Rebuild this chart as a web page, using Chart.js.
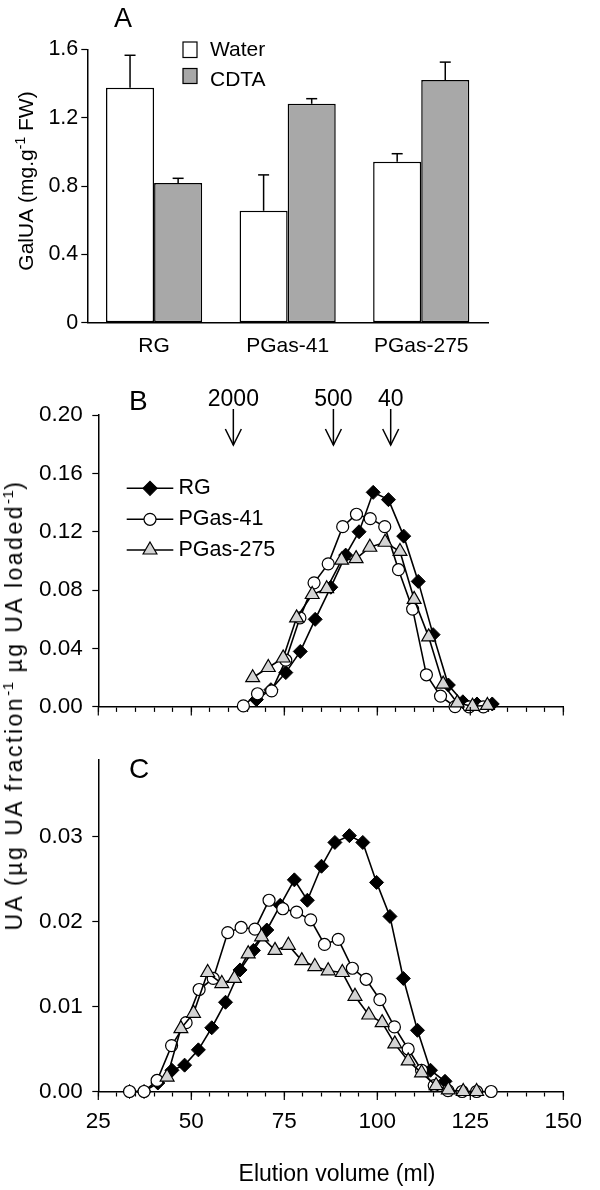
<!DOCTYPE html>
<html><head><meta charset="utf-8">
<script src="https://cdn.jsdelivr.net/npm/chart.js@4.4.1/dist/chart.umd.min.js"></script>
<style>
body{margin:0;background:#fff;}
#wrap{position:relative;width:600px;height:1190px;overflow:hidden;background:#fff;}
canvas{position:absolute;left:0;}
#ytBC{position:absolute;left:3px;top:705px;font:23px "Liberation Sans",Arial,sans-serif;letter-spacing:2.5px;line-height:23px;white-space:nowrap;transform-origin:0 0;transform:rotate(-90deg) translateX(-50%);color:#000;}
#ytBC sup{font-size:15px;letter-spacing:0.5px;line-height:0;vertical-align:baseline;position:relative;top:-9px;}
</style></head><body>
<div id="wrap">
<canvas id="cA" width="600" height="370" style="top:0"></canvas>
<canvas id="cB" width="600" height="370" style="top:360px"></canvas>
<canvas id="cC" width="600" height="460" style="top:730px"></canvas>
<div id="ytBC">UA (µg UA fraction<sup>-1</sup> µg UA loaded<sup>-1</sup>)</div>
</div>
<script>
// ---------- Panel A data ----------
const categories = ['RG', 'PGas-41', 'PGas-275'];
const waterVals = [1.375, 0.655, 0.942];
const cdtaVals  = [0.817, 1.281, 1.420];
const waterErr  = [0.19, 0.21, 0.047];
const cdtaErr   = [0.028, 0.03, 0.105];
const yTicksA   = [0, 0.4, 0.8, 1.2, 1.6];

// ---------- Shared x axis (B, C) ----------
const xTicks = [25,30,35,40,45,50,55,60,65,70,75,80,85,90,95,100,105,110,115,120,125,130,135,140,145,150];
const xMajor = [25,50,75,100,125,150];
const yTicksB = [0, 0.04, 0.08, 0.12, 0.16, 0.20];
const yTicksC = [0, 0.01, 0.02, 0.03];
const markerAt = [61.3, 88.2, 103.6];
const markerLabels = ['2000', '500', '40'];

// ---------- Panel B data ----------
const rgBx   = [67.5, 71.4, 75.4, 79.3, 83.3, 87.5, 91.5, 95.1, 98.9, 103.0, 107.1, 111.0, 115.0, 119.1, 123.0, 126.8, 130.9];
const rgBy   = [0.005, 0.0118, 0.0235, 0.038, 0.060, 0.082, 0.104, 0.120, 0.147, 0.142, 0.117, 0.086, 0.0495, 0.015, 0.0035, 0.002, 0.002];
const p41Bx  = [64.0, 67.8, 71.6, 75.4, 79.2, 83.0, 86.8, 90.7, 94.4, 98.1, 102.0, 105.7, 109.5, 113.2, 117.0, 120.9, 124.7, 128.5];
const p41By  = [0.0007, 0.009, 0.011, 0.032, 0.061, 0.085, 0.098, 0.1235, 0.132, 0.129, 0.1235, 0.094, 0.067, 0.022, 0.0074, 0.0002, 0, 0];
const p275Bx = [66.5, 70.7, 74.7, 78.3, 82.5, 86.4, 90.4, 94.3, 98.0, 102.1, 106.1, 109.9, 113.8, 117.7, 121.5, 125.6, 129.6];
const p275By = [0.020, 0.027, 0.0335, 0.061, 0.077, 0.081, 0.1005, 0.1016, 0.1094, 0.1128, 0.1065, 0.0737, 0.048, 0.0156, 0.0027, 0.0004, 0.001];

// ---------- Panel C data ----------
const rgCx   = [33.4, 37.3, 41.0, 44.8, 48.2, 51.9, 55.5, 59.2, 63.1, 66.7, 70.3, 73.9, 77.7, 81.2, 85.0, 88.6, 92.5, 96.1, 99.8, 103.4, 107.0, 110.8, 114.3, 118.2];
const rgCy   = [0, 0, 0.001, 0.0025, 0.0031, 0.0049, 0.0075, 0.0105, 0.0143, 0.0166, 0.019, 0.0219, 0.0249, 0.0225, 0.0265, 0.0293, 0.0301, 0.0293, 0.0246, 0.0206, 0.0133, 0.0072, 0.0025, 0.0012];
const p41Cx  = [33.4, 37.3, 40.8, 44.7, 48.6, 52.1, 55.9, 59.8, 63.4, 67.1, 70.9, 74.6, 78.3, 82.1, 85.8, 89.5, 93.3, 97.0, 100.7, 104.6, 108.3, 111.9, 115.3, 119.0, 122.8, 126.7, 130.6];
const p41Cy  = [0, 0, 0.0013, 0.0054, 0.0081, 0.012, 0.0133, 0.0187, 0.0193, 0.0191, 0.0225, 0.0215, 0.0211, 0.0202, 0.0173, 0.0179, 0.0145, 0.0132, 0.0108, 0.0076, 0.0050, 0.0025, 0.0007, 0.0001, 0, 0, 0];
const p275Cx = [43.5, 47.2, 50.6, 54.4, 58.2, 61.6, 65.3, 68.9, 72.5, 76.1, 79.7, 83.2, 86.8, 90.6, 94.0, 97.7, 101.3, 104.7, 108.3, 111.9, 115.8, 119.1, 123.1, 126.7];
const p275Cy = [0.0017, 0.0074, 0.0092, 0.014, 0.0127, 0.0133, 0.0162, 0.0182, 0.0166, 0.0172, 0.0154, 0.0147, 0.0142, 0.014, 0.0112, 0.009, 0.0081, 0.0056, 0.0036, 0.0022, 0.0007, 0.0002, 0, 0];

const seriesNames = ['RG', 'PGas-41', 'PGas-275'];

// ---------- helpers ----------
const FONT = '"Liberation Sans", Arial, Helvetica, sans-serif';
Chart.defaults.font.family = FONT;
Chart.defaults.font.size = 21;
Chart.defaults.color = '#000';

function txt(ctx, s, x, y, size, align) {
  ctx.save();
  ctx.font = size + 'px ' + FONT;
  ctx.fillStyle = '#000';
  ctx.textAlign = align || 'left';
  ctx.textBaseline = 'middle';
  ctx.fillText(s, x, y);
  ctx.restore();
}
function line(ctx, x1, y1, x2, y2, w) {
  ctx.save(); ctx.strokeStyle = '#000'; ctx.lineWidth = w || 1.5;
  ctx.beginPath(); ctx.moveTo(x1, y1); ctx.lineTo(x2, y2); ctx.stroke(); ctx.restore();
}
function rotatedTitle(ctx, parts, cy, baseX, size, supSize, supRise) {
  ctx.save();
  ctx.fillStyle = '#000';
  let W = 0;
  parts.forEach(p => { ctx.font = (p.sup ? supSize : size) + 'px ' + FONT; p.w = ctx.measureText(p.t).width; W += p.w; });
  ctx.translate(baseX, cy);
  ctx.rotate(-Math.PI / 2);
  ctx.textBaseline = 'alphabetic'; ctx.textAlign = 'left';
  let x = -W / 2;
  parts.forEach(p => { ctx.font = (p.sup ? supSize : size) + 'px ' + FONT; ctx.fillText(p.t, x, p.sup ? -supRise : 0); x += p.w; });
  ctx.restore();
}
const R_DIA = 7, R_CIR = 6, R_TRI = 8;
function marker(ctx, style, x, y) {
  ctx.save(); ctx.strokeStyle = '#000'; ctx.lineWidth = 1.2;
  ctx.beginPath();
  if (style === 'rectRot') { const r = R_DIA; ctx.moveTo(x - r, y); ctx.lineTo(x, y - r); ctx.lineTo(x + r, y); ctx.lineTo(x, y + r); ctx.closePath(); ctx.fillStyle = '#000'; }
  else if (style === 'circle') { ctx.arc(x, y, R_CIR, 0, Math.PI * 2); ctx.fillStyle = '#fff'; }
  else { const r = R_TRI; ctx.moveTo(x, y - r); ctx.lineTo(x + r * 0.866, y + r / 2); ctx.lineTo(x - r * 0.866, y + r / 2); ctx.closePath(); ctx.fillStyle = '#d4d4d4'; }
  ctx.fill(); ctx.stroke(); ctx.restore();
}
function majorTicks(chart) {
  const ctx = chart.ctx, xs = chart.scales.x, b = chart.chartArea.bottom;
  xMajor.forEach(v => { const px = xs.getPixelForValue(v); line(ctx, px, b, px, b + 8.5, 1.2); });
}

// ---------- Panel A ----------
const plugA = {
  id: 'plugA',
  afterDatasetsDraw(chart) {
    const ctx = chart.ctx, ys = chart.scales.y;
    [[waterVals, waterErr], [cdtaVals, cdtaErr]].forEach((pair, d) => {
      chart.getDatasetMeta(d).data.forEach((bar, i) => {
        const top = ys.getPixelForValue(pair[0][i] + pair[1][i]);
        line(ctx, bar.x, bar.y, bar.x, top, 1.5);
        line(ctx, bar.x - 5.5, top, bar.x + 5.5, top, 1.5);
      });
    });
  },
  afterDraw(chart) {
    const ctx = chart.ctx;
    txt(ctx, 'A', 114, 20, 27, 'left');
    ctx.save(); ctx.lineWidth = 1.2; ctx.strokeStyle = '#000';
    ctx.fillStyle = '#fff'; ctx.fillRect(183, 42, 14, 15.5); ctx.strokeRect(183, 42, 14, 15.5);
    ctx.fillStyle = '#a8a8a8'; ctx.fillRect(183, 68.5, 14, 15); ctx.strokeRect(183, 68.5, 14, 15);
    ctx.restore();
    txt(ctx, 'Water', 210, 50, 21);
    txt(ctx, 'CDTA', 210, 80, 21);
    rotatedTitle(ctx, [{t: 'GalUA (mg.g'}, {t: '-1', sup: true}, {t: ' FW)'}], 181, 33, 21, 14, 8);
  }
};
new Chart(document.getElementById('cA'), {
  type: 'bar',
  data: { labels: categories, datasets: [
    { label: 'Water', data: waterVals, backgroundColor: '#ffffff', borderColor: '#000', borderWidth: 1.5, borderSkipped: false, categoryPercentage: 0.72, barPercentage: 1 },
    { label: 'CDTA', data: cdtaVals, backgroundColor: '#a8a8a8', borderColor: '#000', borderWidth: 1.5, borderSkipped: false, categoryPercentage: 0.72, barPercentage: 1 }
  ]},
  options: {
    responsive: false, animation: false, devicePixelRatio: 1, events: [],
    layout: { padding: { top: 49.3, right: 112, left: 0, bottom: 0 } },
    plugins: { legend: { display: false }, tooltip: { enabled: false } },
    scales: {
      x: { grid: { drawOnChartArea: false, drawTicks: false }, border: { color: '#000', width: 1.5 },
           ticks: { padding: 10.5, color: '#000', font: { size: 21 } },
           afterFit: s => { s.height = 370 - 322.7; } },
      y: { min: 0, max: 1.6,
           afterBuildTicks: s => { s.ticks = yTicksA.map(v => ({ value: v })); },
           ticks: { callback: v => v === 0 ? '0' : v.toFixed(1), padding: 3, color: '#000', font: { size: 21.5 } },
           grid: { drawOnChartArea: false, tickLength: 6, color: '#000', tickWidth: 1.2 },
           border: { color: '#000', width: 1.5 },
           afterFit: s => { s.width = 87.3; } }
    }
  },
  plugins: [plugA]
});

// ---------- Panels B & C ----------
function pts(xs, ys) { return xs.map((x, i) => ({ x: x, y: ys[i] })); }
function lineSets(rx, ry, ax, ay, tx, ty) {
  const base = { borderColor: '#000', borderWidth: 1.6, tension: 0, fill: false, clip: false, showLine: true, pointBorderColor: '#000' };
  return [
    Object.assign({}, base, { label: seriesNames[0], data: pts(rx, ry), pointStyle: 'rectRot', pointRadius: R_DIA, pointBackgroundColor: '#000', pointBorderWidth: 1, order: 3 }),
    Object.assign({}, base, { label: seriesNames[1], data: pts(ax, ay), pointStyle: 'circle', pointRadius: R_CIR, pointBackgroundColor: '#fff', pointBorderWidth: 1.2, order: 2 }),
    Object.assign({}, base, { label: seriesNames[2], data: pts(tx, ty), pointStyle: 'triangle', pointRadius: R_TRI, pointBackgroundColor: '#d4d4d4', pointBorderWidth: 1.2, order: 1 })
  ];
}
function xScale(showLabels, canvasH, bottom) {
  return { type: 'linear', min: 25, max: 150,
    afterBuildTicks: s => { s.ticks = xTicks.map(v => ({ value: v })); },
    ticks: { autoSkip: false, maxRotation: 0, minRotation: 0, padding: 11.5, color: '#000', font: { size: 22.5 },
             callback: v => (showLabels && xMajor.includes(v)) ? String(v) : '' },
    grid: { drawOnChartArea: false, tickLength: 5, color: '#000', tickWidth: 1.2 },
    border: { color: '#000', width: 1.5 },
    afterFit: s => { s.height = canvasH - bottom; } };
}
function yScale(max, arr) {
  return { min: 0, max: max,
    afterBuildTicks: s => { s.ticks = arr.map(v => ({ value: v })); },
    ticks: { padding: 9.6, callback: v => v.toFixed(2), color: '#000', font: { size: 22.5 } },
    grid: { drawOnChartArea: false, tickLength: 6, color: '#000', tickWidth: 1.2 },
    border: { color: '#000', width: 1.5 },
    afterFit: s => { s.width = 98.3; } };
}

const plugB = {
  id: 'plugB',
  afterDraw(chart) {
    const ctx = chart.ctx, xs = chart.scales.x;
    majorTicks(chart);
    txt(ctx, 'B', 129, 42, 28, 'left');
    markerAt.forEach((v, i) => {
      const px = xs.getPixelForValue(v);
      txt(ctx, markerLabels[i], px, 40, 23, 'center');
      line(ctx, px, 49, px, 85, 1.5);
      ctx.save(); ctx.strokeStyle = '#000'; ctx.lineWidth = 1.5; ctx.beginPath();
      ctx.moveTo(px - 8, 69); ctx.lineTo(px, 85); ctx.lineTo(px + 8, 69); ctx.stroke(); ctx.restore();
    });
    const styles = ['rectRot', 'circle', 'triangle'];
    const ly = [128.3, 159.3, 190];
    styles.forEach((st, i) => {
      line(ctx, 126.7, ly[i], 173.3, ly[i], 1.6);
      marker(ctx, st, 150, ly[i]);
      txt(ctx, seriesNames[i], 178.5, ly[i], 21.5, 'left');
    });
  }
};
new Chart(document.getElementById('cB'), {
  type: 'line',
  data: { datasets: lineSets(rgBx, rgBy, p41Bx, p41By, p275Bx, p275By) },
  options: {
    responsive: false, animation: false, devicePixelRatio: 1, events: [],
    layout: { padding: { top: 55, right: 36.7, left: 0, bottom: 0 } },
    plugins: { legend: { display: false }, tooltip: { enabled: false } },
    scales: { x: xScale(false, 370, 353.3), y: yScale(0.20, yTicksB) }
  },
  plugins: [plugB]
});

const plugC = {
  id: 'plugC',
  afterDraw(chart) {
    const ctx = chart.ctx;
    majorTicks(chart);
    txt(ctx, 'C', 129, 40, 28, 'left');
    txt(ctx, 'Elution volume (ml)', 337, 445, 23, 'center');
  }
};
new Chart(document.getElementById('cC'), {
  type: 'line',
  data: { datasets: lineSets(rgCx, rgCy, p41Cx, p41Cy, p275Cx, p275Cy) },
  options: {
    responsive: false, animation: false, devicePixelRatio: 1, events: [],
    layout: { padding: { top: 30, right: 36.7, left: 0, bottom: 0 } },
    plugins: { legend: { display: false }, tooltip: { enabled: false } },
    scales: { x: xScale(true, 460, 361.5), y: yScale(0.039, yTicksC) }
  },
  plugins: [plugC]
});
</script>
</body></html>
